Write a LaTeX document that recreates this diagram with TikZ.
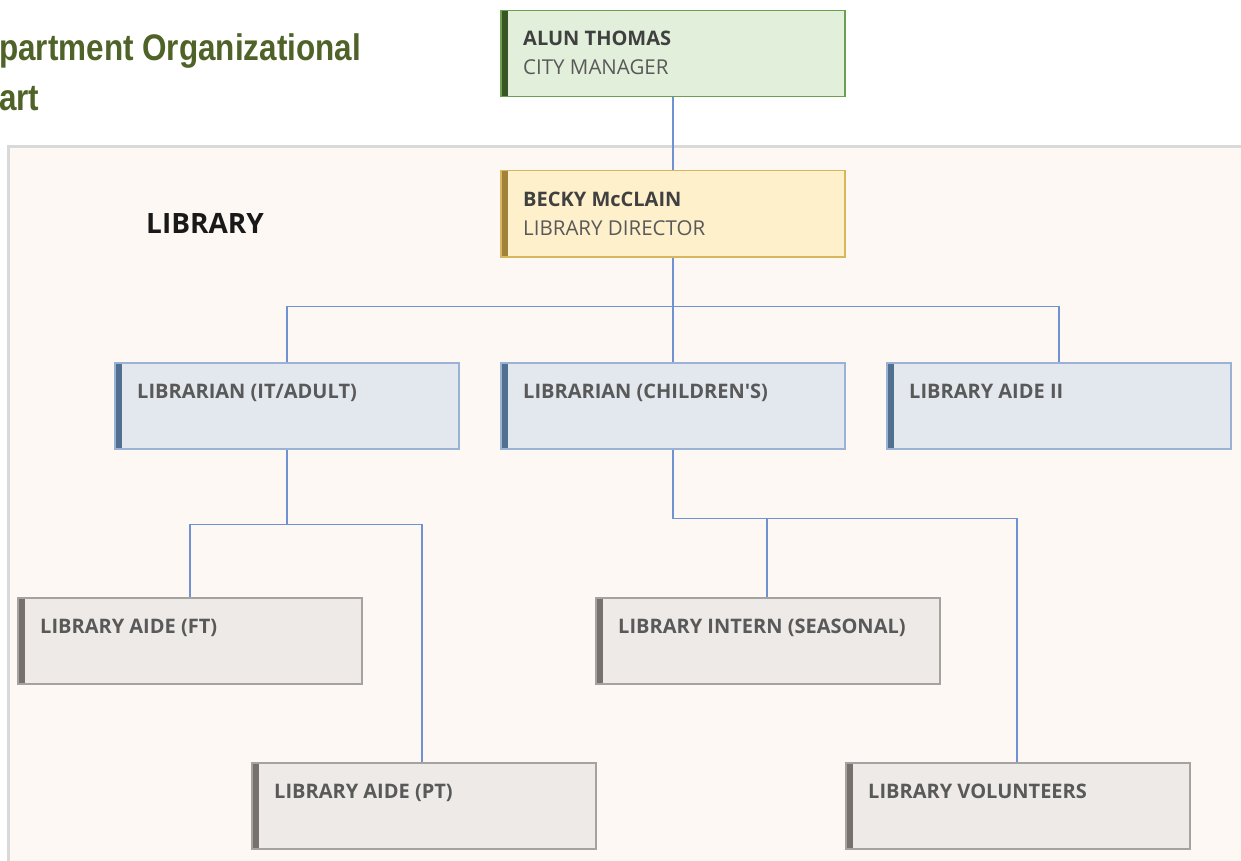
\documentclass[tikz,border=0pt]{standalone}
\usepackage{fontspec}
\newfontfamily\boxfont{Open Sans}
\newfontfamily\titlefont[FakeStretch=0.85]{Liberation Sans}
\definecolor{link}{HTML}{7092D2}
\definecolor{panelfill}{HTML}{FDF8F4}
\definecolor{panelline}{HTML}{D9D9D9}
\definecolor{titlegreen}{HTML}{4F6228}
\definecolor{grnfill}{HTML}{E2EFDA}
\definecolor{grnline}{HTML}{6E9E50}
\definecolor{grnbar}{HTML}{375623}
\definecolor{yelfill}{HTML}{FFF0CC}
\definecolor{yelline}{HTML}{D8B65C}
\definecolor{yelbar}{HTML}{A0823A}
\definecolor{blufill}{HTML}{E3E8EE}
\definecolor{bluline}{HTML}{9AB2D3}
\definecolor{blubar}{HTML}{51708F}
\definecolor{gryfill}{HTML}{EEEAE7}
\definecolor{gryline}{HTML}{A6A29F}
\definecolor{grybar}{HTML}{77716D}
\definecolor{nametext}{HTML}{404040}
\definecolor{roletext}{HTML}{595959}
\tikzset{
  card/.style n args={3}{draw=#2, fill=#1, line width=1.5pt, inner sep=0pt,
    minimum width=344pt, minimum height=86pt, anchor=north west,
    path picture={\fill[#3] (path picture bounding box.north west) rectangle
      ([xshift=7pt]path picture bounding box.south west);}},
  greencard/.style={card={grnfill}{grnline}{grnbar}},
  yellowcard/.style={card={yelfill}{yelline}{yelbar}},
  bluecard/.style={card={blufill}{bluline}{blubar}},
  greycard/.style={card={gryfill}{gryline}{grybar}},
  cardtext/.style={anchor=base west, inner sep=0pt},
  boldtext/.style={cardtext, font=\boxfont\bfseries\fontsize{20}{22}\selectfont},
  plaintext/.style={cardtext, font=\boxfont\fontsize{20.5}{22}\selectfont, text=roletext},
  wire/.style={draw=link, line width=1.9pt}
}
% a person card: name, style, left, top, name line, role line
\newcommand\personcard[6]{%
  \node[#2] (#1) at (#3,#4) {};
  \node[boldtext, text=nametext] (#1-a) at ([xshift=23pt,yshift=-36pt]#1.north west) {#5};
  \node[plaintext] (#1-b) at ([xshift=23pt,yshift=-65pt]#1.north west) {#6};
}
% a position card: name, style, left, top, title
\newcommand\postcard[5]{%
  \node[#2] (#1) at (#3,#4) {};
  \node[boldtext, text=roletext] (#1-a) at ([xshift=23pt,yshift=-36pt]#1.north west) {#5};
}
\begin{document}
\begin{tikzpicture}[x=1pt, y=-1pt]
\useasboundingbox (0,0) rectangle (1241,861);
\clip (0,0) rectangle (1241,861);
\fill[white] (0,0) rectangle (1241,861);
% department panel
\draw[panelline, fill=panelfill, line width=3pt] (8,147) rectangle (1270,890);
% heading
\node[anchor=base west, inner sep=0pt, text=titlegreen, font=\titlefont\bfseries\fontsize{37}{37}\selectfont]
  (head1) at (-1,61) {partment Organizational};
\node[anchor=base west, inner sep=0pt, text=titlegreen, font=\titlefont\bfseries\fontsize{37}{37}\selectfont]
  (head2) at (-1,111) {art};
\node[anchor=base west, inner sep=0pt, text=black!90, font=\boxfont\bfseries\fontsize{28}{28}\selectfont]
  (dept) at (146,233) {LIBRARY};

% cards
\personcard{mgr}{greencard}{500}{10}{ALUN THOMAS}{CITY MANAGER}
\personcard{dir}{yellowcard}{500}{170}{BECKY McCLAIN}{LIBRARY DIRECTOR}
\postcard{itl}{bluecard}{114}{362}{LIBRARIAN (IT/ADULT)}
\postcard{chl}{bluecard}{500}{362}{LIBRARIAN (CHILDREN'S)}
\postcard{ai2}{bluecard}{886}{362}{LIBRARY AIDE II}
\postcard{aft}{greycard}{17}{597}{LIBRARY AIDE (FT)}
\postcard{int}{greycard}{595}{597}{LIBRARY INTERN (SEASONAL)}
\postcard{apt}{greycard}{251}{762}{LIBRARY AIDE (PT)}
\postcard{vol}{greycard}{845}{762}{LIBRARY VOLUNTEERS}

% connectors
\draw[wire] (mgr.south) -- (dir.north);
\draw[wire] (dir.south) -- ++(0,49) coordinate (hub);
\draw[wire] (itl.north) |- (hub) -| (ai2.north);
\draw[wire] (hub) -- (chl.north);
\draw[wire] (itl.south) -- ++(0,75) coordinate (ithub);
\draw[wire] ([xshift=173pt]aft.north west) |- (ithub) -| ([xshift=171pt]apt.north west);
\draw[wire] (chl.south) -- ++(0,69) coordinate (chhub);
\draw[wire] (chhub) -| ([xshift=172pt]int.north west);
\draw[wire] (chhub) -| ([xshift=172pt]vol.north west);
\end{tikzpicture}
\end{document}
